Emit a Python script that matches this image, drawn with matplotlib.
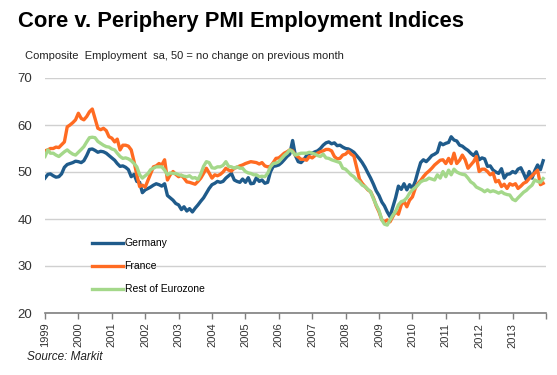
import matplotlib
matplotlib.use("Agg")
import matplotlib.pyplot as plt
import numpy as np
import pandas as pd

plt.rcParams['font.family'] = ['Liberation Sans', 'DejaVu Sans']

months = pd.date_range("1999-01-01", periods=180, freq="MS")

germany = [
    48.7, 49.5, 49.6, 49.2, 48.9, 49.0, 49.6, 51.0, 51.6, 51.8, 52.0, 52.3,
    52.2, 52.0, 52.4, 53.5, 54.8, 54.9, 54.6, 54.2, 54.4, 54.3, 54.0, 53.5,
    53.0, 52.5, 51.8, 51.2, 51.3, 51.0, 50.5, 49.0, 49.5, 48.0, 47.8, 45.6,
    46.2, 46.5, 46.8, 47.2, 47.5, 47.3, 47.0, 47.5, 45.0, 44.5, 44.0, 43.3,
    43.0, 42.0, 42.6, 41.7, 42.2, 41.5, 42.3, 43.0, 43.8, 44.5, 45.5, 46.5,
    47.3, 47.6, 48.0, 47.8, 48.0, 48.7, 49.2, 49.7, 48.3, 48.0, 47.8, 48.5,
    47.8, 48.8, 47.5, 47.6, 48.8, 48.0, 48.3, 47.6, 47.8, 50.0, 51.2, 51.3,
    51.5, 52.0, 52.6, 53.3, 53.8, 56.7, 53.5, 52.2, 52.0, 52.6, 53.5, 54.0,
    54.0, 54.3, 54.5, 55.0, 55.7, 56.2, 56.4, 56.0, 56.2, 55.6, 55.7, 55.3,
    55.0, 54.9, 54.6, 54.2, 53.5, 52.8, 52.0, 51.0, 49.8, 48.7, 47.4, 46.0,
    45.0, 43.6, 42.8, 41.5, 40.5, 42.5, 44.5, 47.0, 46.3, 47.5, 46.2, 47.3,
    46.5, 48.0, 50.0, 52.0, 52.6, 52.2, 52.8, 53.5, 53.8, 54.2, 56.2, 55.8,
    56.1, 56.3, 57.5, 56.8, 56.6, 55.7, 55.5, 55.0, 54.6, 54.0, 53.5, 54.3,
    52.6, 53.0, 52.8, 51.2, 51.3, 50.4, 50.0, 49.7, 50.7, 48.7, 49.5, 49.6,
    50.1, 49.8, 50.6, 50.9, 49.7, 48.3, 50.1, 48.7, 50.3, 51.5, 50.5, 52.4,
]

france = [
    54.5, 54.7, 55.0, 55.0, 55.3, 55.2, 55.8, 56.4, 59.6, 60.0, 60.5, 61.1,
    62.5, 61.4, 61.1, 61.8, 62.8, 63.4, 61.4, 59.3, 59.0, 59.3, 58.8, 57.5,
    57.2, 56.4, 57.0, 54.7, 55.7, 55.7, 55.5, 54.7, 52.2, 49.4, 46.9, 47.2,
    46.8, 48.3, 49.7, 51.1, 51.3, 51.8, 51.5, 52.6, 48.3, 49.4, 50.1, 49.5,
    49.0, 49.3, 48.7, 47.9, 47.8, 47.6, 47.4, 48.0, 48.7, 49.7, 50.8, 49.8,
    48.7, 49.4, 49.2, 49.5, 50.0, 50.8, 50.4, 50.2, 50.8, 51.0, 51.3, 51.5,
    51.8, 52.0, 52.2, 52.1, 52.0, 51.7, 52.0, 51.3, 51.1, 51.2, 52.0, 52.9,
    53.0, 53.5, 54.0, 54.3, 54.7, 54.5, 53.6, 53.2, 52.7, 52.7, 52.5, 53.3,
    53.0, 53.5, 54.0, 54.3, 54.5, 54.8, 54.8, 54.5, 53.3, 52.8, 52.9, 53.6,
    53.8, 54.4, 53.8, 53.4, 51.0, 48.5, 47.6, 46.9, 46.2, 45.8, 44.5, 42.8,
    41.5, 39.8, 39.4, 39.8, 39.4, 40.5, 41.6, 41.0, 43.0, 43.8, 42.6, 44.0,
    44.7, 46.5, 47.5, 48.2, 49.0, 49.7, 50.2, 50.8, 51.5, 52.0, 52.5, 52.6,
    51.8, 52.9, 51.8, 54.0, 51.8, 52.5, 53.6, 52.6, 50.8, 51.5, 52.2, 53.3,
    50.1, 50.6, 50.6, 50.1, 49.4, 49.8, 47.9, 48.2, 46.9, 47.4, 46.5, 47.5,
    47.2, 47.5, 46.5, 47.0, 47.6, 47.9, 48.6, 49.2, 49.8, 50.4, 47.3, 47.6,
]

rest = [
    53.3, 54.7, 54.0, 54.0, 53.6, 53.3, 53.8, 54.3, 54.7, 54.2, 53.8, 53.6,
    54.2, 54.8, 55.4, 56.4, 57.3, 57.4, 57.3, 56.5, 56.1, 55.7, 55.4, 55.3,
    54.9, 54.7, 54.0, 53.3, 52.9, 53.0, 52.8, 52.4, 51.8, 51.1, 49.4, 48.7,
    49.2, 49.7, 50.5, 50.8, 51.1, 51.1, 51.1, 50.4, 49.4, 49.8, 49.7, 49.7,
    49.4, 49.3, 49.1, 49.0, 49.2, 48.7, 48.8, 48.4, 49.6, 51.2, 52.2, 52.0,
    50.9, 50.8, 51.1, 51.1, 51.4, 52.2, 51.2, 51.1, 50.8, 51.1, 50.8, 50.8,
    50.1, 49.8, 49.7, 49.4, 49.4, 49.0, 49.1, 49.0, 49.7, 51.1, 51.8, 51.9,
    52.2, 52.9, 53.5, 54.0, 54.7, 54.3, 53.6, 53.8, 54.0, 54.0, 54.0, 54.2,
    54.0, 53.8, 53.5, 53.3, 53.8, 53.0, 52.9, 52.6, 52.4, 52.2, 52.0, 50.8,
    50.6, 50.0, 49.4, 49.0, 48.3, 47.9, 47.2, 46.9, 46.3, 45.8, 44.3, 43.0,
    41.8, 39.8, 38.9, 38.7, 39.8, 40.8, 41.6, 43.0, 43.7, 43.9, 44.5, 45.5,
    46.2, 46.7, 47.2, 47.9, 48.2, 48.3, 48.7, 48.5, 48.3, 49.4, 48.7, 50.1,
    49.0, 50.4, 49.4, 50.6, 50.0, 49.7, 49.5, 49.4, 48.7, 47.9, 47.5, 46.8,
    46.5, 46.2, 45.8, 46.2, 45.8, 46.0, 45.8, 45.5, 45.8, 45.4, 45.2, 45.1,
    44.2, 43.9, 44.5, 45.1, 45.7, 46.1, 46.7, 47.2, 48.3, 48.0, 47.8, 48.6,
]

series_names = ["Germany", "France", "Rest of Eurozone"]
series_colors = ["#1f5b8b", "#ff6b22", "#a4d88a"]
year_labels = [str(y) for y in range(1999, 2014)]
y_ticks = [20, 30, 40, 50, 60, 70]

fig = plt.figure(figsize=(5.57, 3.75), dpi=100)
ax = fig.add_axes([45 / 557, 62 / 375, 501 / 557, 235 / 375])

for vals, name, col in zip([germany, france, rest], series_names, series_colors):
    ax.plot(months, vals, color=col, lw=2.4, label=name, solid_joinstyle="round")

ax.set_ylim(20, 70)
ax.set_yticks(y_ticks)
ax.set_xlim(pd.Timestamp("1999-01-01"), pd.Timestamp("2014-01-01"))
year_ticks = [pd.Timestamp(f"{y}-01-01") for y in range(1999, 2015)]
ax.set_xticks(year_ticks)
ax.set_xticklabels(year_labels + [""], rotation=90, fontsize=8, color="#333333")
ax.tick_params(axis="x", direction="out", length=4, width=1, color="#7f7f7f", pad=3)
ax.tick_params(axis="y", length=0, labelsize=9.5, pad=9, labelcolor="#333333")

ax.grid(axis="y", color="#d0d0d0", lw=1)
ax.set_axisbelow(True)
for s in ["left", "right", "top"]:
    ax.spines[s].set_visible(False)
ax.spines["bottom"].set_color("#7f7f7f")
ax.spines["bottom"].set_linewidth(1.2)

ax.legend(loc="upper left", bbox_to_anchor=(0.085, 0.335), frameon=False,
          fontsize=7.5, handlelength=3.0, handletextpad=0.15, labelspacing=1.25,
          borderaxespad=0)

fig.text(18 / 557, 1 - 22 / 375, "Core v. Periphery PMI Employment Indices",
         fontsize=15.8, fontweight="bold", va="center", ha="left")
fig.text(25 / 557, 1 - 56 / 375,
         "Composite  Employment  sa, 50 = no change on previous month",
         fontsize=8.0, va="center", ha="left", color="#222222")
fig.text(27 / 557, 1 - 357 / 375, "Source: Markit", fontsize=8.5,
         style="italic", va="center", ha="left", color="#222222")

fig.savefig("out.png", dpi=100)
